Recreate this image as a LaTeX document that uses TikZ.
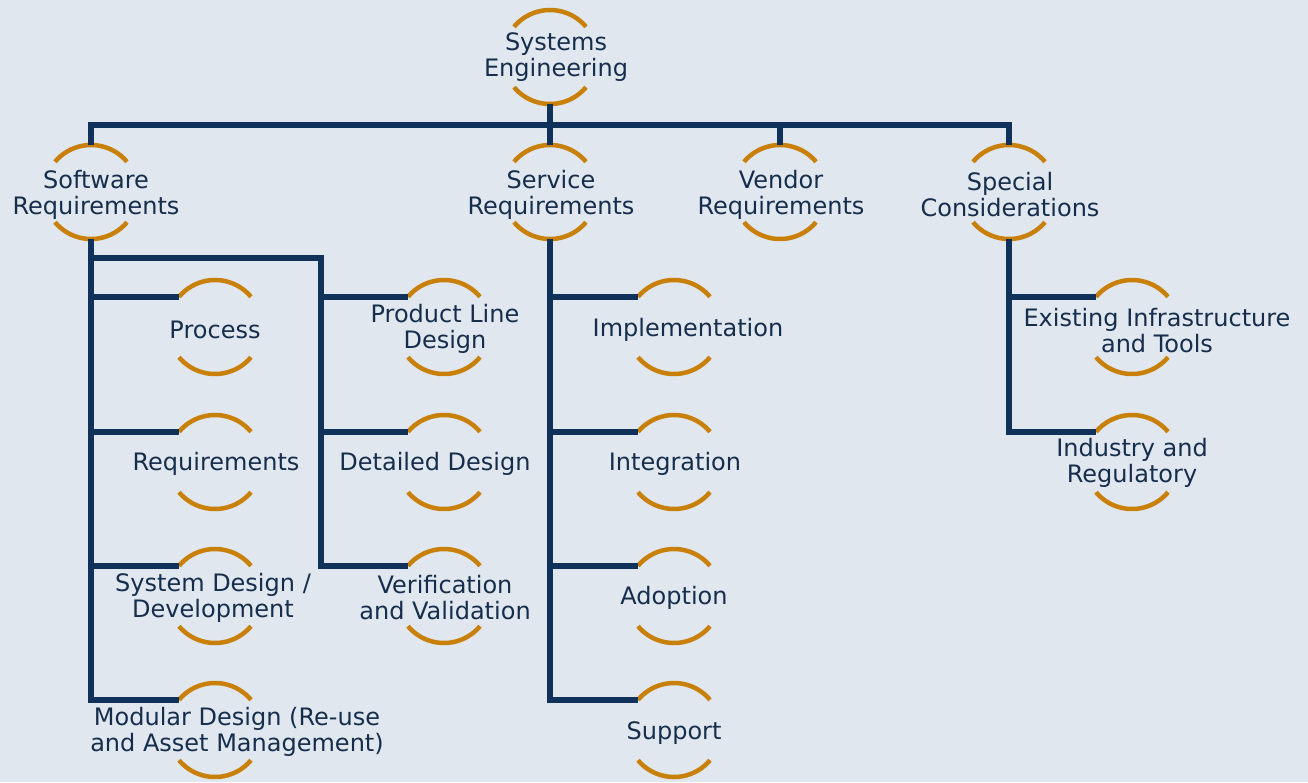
\documentclass[tikz,border=0pt]{standalone}
\usepackage{fontspec}
\setmainfont{DejaVu Sans}
\definecolor{bgc}{HTML}{E0E7EF}
\definecolor{navy}{HTML}{10315A}
\definecolor{ringc}{HTML}{C98009}
\definecolor{txtc}{HTML}{162E4C}
\begin{document}
\begin{tikzpicture}[x=1pt,y=1pt,
  ringnode/.style={circle,minimum size=94pt,inner sep=0pt,outer sep=0pt,draw=none},
  txt/.style={align=center,text=txtc,font=\fontsize{24}{26}\selectfont,inner sep=0pt},
  arcline/.style={draw=ringc,line width=4.5pt},
  link/.style={draw=navy,line width=5.5pt}]
\fill[bgc] (0,0) rectangle (1308,-782);
\useasboundingbox (0,0) rectangle (1308,-782);
% ring nodes
\node[ringnode] (se) at (550,-57) {};
\node[ringnode] (sw) at (91,-192) {};
\node[ringnode] (sv) at (550,-192) {};
\node[ringnode] (vd) at (780,-192) {};
\node[ringnode] (sp) at (1009,-192) {};
\node[ringnode] (c1) at (215,-327) {};
\node[ringnode] (c2) at (215,-462) {};
\node[ringnode] (c3) at (215,-596) {};
\node[ringnode] (c4) at (215,-730) {};
\node[ringnode] (d1) at (444,-327) {};
\node[ringnode] (d2) at (444,-462) {};
\node[ringnode] (d3) at (444,-596) {};
\node[ringnode] (s1) at (674,-327) {};
\node[ringnode] (s2) at (674,-462) {};
\node[ringnode] (s3) at (674,-596) {};
\node[ringnode] (s4) at (674,-730) {};
\node[ringnode] (e1) at (1132,-327) {};
\node[ringnode] (e2) at (1132,-462) {};
% arcs
\foreach \n in {se,sw,sv,vd,sp,c1,c2,c3,c4,d1,d2,d3,s1,s2,s3,s4,e1,e2}{
  \draw[arcline] (\n.40) arc[start angle=40,end angle=140,radius=47pt];
  \draw[arcline] (\n.220) arc[start angle=220,end angle=320,radius=47pt];
}
% connectors
\coordinate (bus) at (550,-125);
\coordinate (swbend) at (321,-258);
\draw[link] (se.south) -- (bus);
\draw[link] (bus) -| (sw.north);
\draw[link] (bus) -| (sp.north);
\draw[link] (bus) -| (vd.north);
\draw[link] (bus) -- (sv.north);
\foreach \n in {c1,c2,c3,c4}{\draw[link] (sw.south) |- (\n.140);}
\draw[link] (sw.south) |- (swbend) |- (d3.140);
\foreach \n in {d1,d2}{\draw[link] (swbend) |- (\n.140);}
\foreach \n in {s1,s2,s3,s4}{\draw[link] (sv.south) |- (\n.140);}
\foreach \n in {e1,e2}{\draw[link] (sp.south) |- (\n.140);}
% texts
\node[txt] (tse) at (556,-57) {Systems\\Engineering};
\node[txt] (tsw) at (96,-195) {Software\\Requirements};
\node[txt] (tsv) at (551,-195) {Service\\Requirements};
\node[txt] (tvd) at (781,-195) {Vendor\\Requirements};
\node[txt] (tsp) at (1010,-195) {Special\\Considerations};
\node[txt] (tc1) at (215,-330) {Process};
\node[txt] (tc2) at (216,-464) {Requirements};
\node[txt] (tc3) at (213,-598) {System Design /\\Development};
\node[txt] (tc4) at (237,-732) {Modular Design (Re-use\\and Asset Management)};
\node[txt] (td1) at (445,-329) {Product Line\\Design};
\node[txt] (td2) at (435,-464) {Detailed Design};
\node[txt] (td3) at (445,-598) {Verification\\and Validation};
\node[txt] (ts1) at (688,-330) {Implementation};
\node[txt] (ts2) at (675,-464) {Integration};
\node[txt] (ts3) at (674,-598) {Adoption};
\node[txt] (ts4) at (674,-733) {Support};
\node[txt] (te1) at (1157,-331) {Existing Infrastructure\\and Tools};
\node[txt] (te2) at (1132,-463) {Industry and\\Regulatory};
\end{tikzpicture}
\end{document}
